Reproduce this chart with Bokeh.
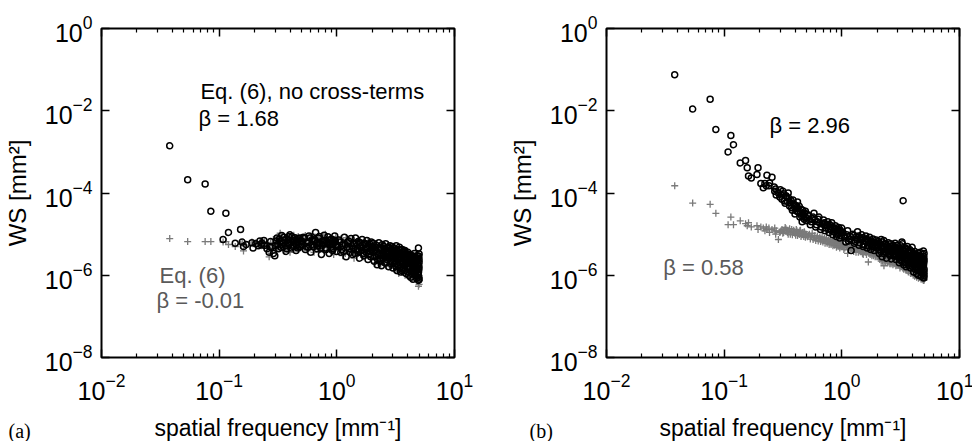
from bokeh.plotting import figure
from bokeh.layouts import row
from bokeh.models import FixedTicker, LogAxis, Label, Range1d, ColumnDataSource
from bokeh.embed import file_html
from bokeh.resources import INLINE

# ---------------- data ----------------
freq = [
    0.038, 0.054, 0.076, 0.085, 0.108, 0.114, 0.120, 0.137, 0.152, 0.157,
    0.161, 0.170, 0.190, 0.194, 0.205, 0.215, 0.222, 0.228, 0.231, 0.240,
    0.243, 0.255, 0.266, 0.269, 0.274, 0.277, 0.289, 0.297,
    0.30, 0.31, 0.32, 0.33, 0.34, 0.35, 0.36, 0.37, 0.38, 0.39,
    0.40, 0.41, 0.42, 0.43, 0.44, 0.45, 0.46, 0.47, 0.48, 0.49, 0.50,
    0.52, 0.54, 0.56, 0.58, 0.60, 0.62, 0.64, 0.66, 0.68, 0.70,
    0.72, 0.74, 0.76, 0.78, 0.80, 0.82, 0.84, 0.86, 0.88, 0.90,
    0.92, 0.94, 0.96, 0.98, 1.00,
    1.04, 1.08, 1.12, 1.16, 1.20, 1.24, 1.28, 1.32, 1.36, 1.40,
    1.44, 1.48, 1.52, 1.56, 1.60, 1.64, 1.68, 1.72, 1.76, 1.80,
    1.84, 1.88, 1.92, 1.96, 2.00,
    2.04, 2.08, 2.12, 2.16, 2.20, 2.24, 2.28, 2.32, 2.36, 2.40,
    2.44, 2.48, 2.52, 2.56, 2.60, 2.64, 2.68, 2.72, 2.76, 2.80,
    2.84, 2.88, 2.92, 2.96,
    3.00, 3.04, 3.08, 3.12, 3.16, 3.20, 3.24, 3.28, 3.32, 3.36,
    3.40, 3.44, 3.48, 3.52, 3.56, 3.60, 3.64, 3.68, 3.72, 3.76,
    3.80, 3.84, 3.88, 3.92, 3.96,
    4.00, 4.04, 4.08, 4.12, 4.16, 4.20, 4.24, 4.28, 4.32, 4.36,
    4.40, 4.44, 4.48, 4.52, 4.56, 4.60, 4.64, 4.68, 4.72, 4.76,
    4.80, 4.84, 4.88, 4.92, 4.96, 5.00,
    4.94, 4.95, 4.97, 4.98, 4.99, 5.00, 5.00, 5.00,
    # second pass through the dense part
    0.305, 0.315, 0.325, 0.335, 0.345, 0.355, 0.365, 0.375, 0.385, 0.395,
    0.405, 0.415, 0.425, 0.435, 0.445, 0.455, 0.465, 0.475, 0.485, 0.495,
    0.51, 0.53, 0.55, 0.57, 0.59, 0.61, 0.63, 0.65, 0.67, 0.69,
    0.71, 0.73, 0.75, 0.77, 0.79, 0.81, 0.83, 0.85, 0.87, 0.89,
    0.91, 0.93, 0.95, 0.97, 0.99,
    1.02, 1.06, 1.10, 1.14, 1.18, 1.22, 1.26, 1.30, 1.34, 1.38,
    1.42, 1.46, 1.50, 1.54, 1.58, 1.62, 1.66, 1.70, 1.74, 1.78,
    1.82, 1.86, 1.90, 1.94, 1.98,
    2.02, 2.06, 2.10, 2.14, 2.18, 2.22, 2.26, 2.30, 2.34, 2.38,
    2.42, 2.46, 2.50, 2.54, 2.58, 2.62, 2.66, 2.70, 2.74, 2.78,
    2.82, 2.86, 2.90, 2.94, 2.98,
    3.02, 3.06, 3.10, 3.14, 3.18, 3.22, 3.26, 3.30, 3.34, 3.38,
    3.42, 3.46, 3.50, 3.54, 3.58, 3.62, 3.66, 3.70, 3.74, 3.78,
    3.82, 3.86, 3.90, 3.94, 3.98,
    4.02, 4.06, 4.10, 4.14, 4.18, 4.22, 4.26, 4.30, 4.34, 4.38,
    4.42, 4.46, 4.50, 4.54, 4.58, 4.62, 4.66, 4.70, 4.74, 4.78,
    4.82, 4.86, 4.90, 4.94, 4.98,
]

# panel (a): Eq. (6) without cross-terms (black circles)
ws_a_nocross = [
    1.4e-3, 2.1e-4, 1.65e-4, 3.6e-5, 7.4e-6, 3.2e-5, 1.1e-5, 6.0e-6, 1.3e-5, 6.4e-6,
    5.0e-6, 5.6e-6, 6.2e-6, 4.6e-6, 5.8e-6, 5.2e-6, 6.8e-6, 5.5e-6, 6.0e-6, 7.0e-6,
    5.3e-6, 4.4e-6, 3.6e-6, 5.0e-6, 6.6e-6, 4.8e-6, 3.4e-6, 3.0e-6,
    5.2e-6, 8.0e-6, 4.4e-6, 6.6e-6, 9.2e-6, 5.0e-6, 7.2e-6, 3.8e-6, 6.0e-6, 8.6e-6,
    9.6e-6, 4.6e-6, 7.0e-6, 5.4e-6, 8.2e-6, 4.0e-6, 6.4e-6, 7.8e-6, 4.8e-6, 6.8e-6, 5.6e-6,
    8.4e-6, 4.2e-6, 6.2e-6, 9.0e-6, 3.6e-6, 7.4e-6, 5.0e-6, 1.1e-5, 4.4e-6, 8.0e-6,
    5.8e-6, 3.2e-6, 7.0e-6, 9.4e-6, 4.6e-6, 6.4e-6, 8.6e-6, 3.4e-6, 5.6e-6, 7.6e-6,
    4.0e-6, 6.8e-6, 9.0e-6, 5.2e-6, 3.8e-6,
    7.2e-6, 3.6e-6, 5.4e-6, 8.4e-6, 2.8e-6, 6.2e-6, 4.4e-6, 7.8e-6, 3.2e-6, 5.8e-6,
    8.0e-6, 4.0e-6, 6.6e-6, 2.6e-6, 5.0e-6, 7.4e-6, 3.4e-6, 6.0e-6, 4.6e-6, 7.0e-6,
    2.4e-6, 5.2e-6, 3.8e-6, 6.4e-6, 4.2e-6,
    6.0e-6, 2.2e-6, 4.0e-6, 5.4e-6, 1.8e-6, 3.2e-6, 6.2e-6, 2.6e-6, 4.6e-6, 1.7e-6,
    5.6e-6, 3.0e-6, 4.2e-6, 2.0e-6, 5.8e-6, 3.6e-6, 2.4e-6, 4.8e-6, 1.6e-6, 3.4e-6,
    5.2e-6, 2.2e-6, 3.8e-6, 5.0e-6,
    1.5e-6, 2.8e-6, 4.4e-6, 1.9e-6, 3.2e-6, 5.2e-6, 1.3e-6, 2.4e-6, 3.8e-6, 1.7e-6,
    4.8e-6, 2.9e-6, 1.2e-6, 3.5e-6, 2.1e-6, 4.2e-6, 1.4e-6, 2.6e-6, 3.9e-6, 1.8e-6,
    4.0e-6, 2.3e-6, 1.1e-6, 3.1e-6, 1.6e-6,
    3.6e-6, 2.0e-6, 1.0e-6, 2.8e-6, 1.4e-6, 3.2e-6, 9.0e-7, 2.2e-6, 1.2e-6, 3.0e-6,
    1.7e-6, 8.0e-7, 2.5e-6, 1.3e-6, 3.4e-6, 1.9e-6, 1.0e-6, 2.7e-6, 1.5e-6, 8.5e-7,
    2.1e-6, 3.0e-6, 1.1e-6, 1.8e-6, 7.5e-7, 2.4e-6,
    4.6e-6, 1.2e-6, 2.9e-6, 9.0e-7, 1.6e-6, 3.3e-6, 8.0e-7, 2.0e-6,
    6.8e-6, 5.6e-6, 7.6e-6, 4.8e-6, 6.2e-6, 8.4e-6, 5.2e-6, 4.4e-6, 7.4e-6, 5.8e-6,
    6.6e-6, 8.8e-6, 5.0e-6, 7.0e-6, 6.0e-6, 5.4e-6, 4.6e-6, 7.2e-6, 8.0e-6, 5.0e-6,
    6.6e-6, 7.8e-6, 5.0e-6, 4.8e-6, 8.0e-6, 5.6e-6, 6.6e-6, 7.2e-6, 6.0e-6, 5.2e-6,
    8.8e-6, 4.6e-6, 5.4e-6, 6.2e-6, 7.0e-6, 4.2e-6, 5.8e-6, 6.0e-6, 7.2e-6, 4.8e-6,
    5.8e-6, 4.4e-6, 6.2e-6, 7.0e-6, 5.6e-6,
    5.0e-6, 6.4e-6, 4.2e-6, 3.8e-6, 5.6e-6, 4.8e-6, 6.8e-6, 3.6e-6, 5.2e-6, 4.6e-6,
    3.4e-6, 6.0e-6, 4.4e-6, 3.8e-6, 6.2e-6, 4.0e-6, 5.4e-6, 3.0e-6, 5.6e-6, 3.6e-6,
    4.8e-6, 3.2e-6, 5.8e-6, 2.8e-6, 5.0e-6,
    4.6e-6, 3.6e-6, 2.8e-6, 4.8e-6, 3.8e-6, 2.4e-6, 4.4e-6, 3.4e-6, 2.2e-6, 4.2e-6,
    3.2e-6, 2.6e-6, 5.0e-6, 2.8e-6, 4.4e-6, 3.0e-6, 2.0e-6, 4.0e-6, 3.6e-6, 2.6e-6,
    4.6e-6, 2.8e-6, 1.9e-6, 4.2e-6, 3.0e-6,
    3.4e-6, 2.2e-6, 3.6e-6, 2.6e-6, 1.6e-6, 4.0e-6, 3.0e-6, 1.8e-6, 2.7e-6, 4.2e-6,
    2.0e-6, 1.5e-6, 3.3e-6, 2.5e-6, 1.3e-6, 3.0e-6, 2.0e-6, 3.6e-6, 2.4e-6, 1.3e-6,
    2.9e-6, 3.4e-6, 1.9e-6, 2.4e-6, 3.2e-6,
    2.6e-6, 1.6e-6, 1.2e-6, 2.2e-6, 3.0e-6, 1.5e-6, 2.6e-6, 1.1e-6, 1.9e-6, 2.4e-6,
    1.2e-6, 2.0e-6, 1.6e-6, 2.8e-6, 1.1e-6, 1.6e-6, 2.2e-6, 1.3e-6, 9.5e-7, 2.3e-6,
    1.4e-6, 1.8e-6, 2.6e-6, 1.0e-6, 1.4e-6,
]

# panel (a): Eq. (6) (grey crosses)
ws_a_eq6 = [
    7.8e-6, 6.6e-6, 6.6e-6, 6.6e-6, 6.4e-6, 6.6e-6, 5.6e-6, 5.0e-6, 5.6e-6, 6.0e-6,
    3.9e-6, 5.4e-6, 6.4e-6, 5.8e-6, 6.2e-6, 5.6e-6, 6.6e-6, 5.2e-6, 6.0e-6, 5.8e-6,
    6.4e-6, 4.8e-6, 2.8e-6, 5.4e-6, 6.2e-6, 3.4e-6, 7.4e-6, 6.0e-6,
    6.4e-6, 4.2e-6, 8.6e-6, 1.05e-5, 5.0e-6, 7.4e-6, 4.0e-6, 6.8e-6, 9.0e-6, 5.4e-6,
    3.6e-6, 7.8e-6, 6.0e-6, 9.4e-6, 4.4e-6, 7.0e-6, 5.2e-6, 8.8e-6, 6.2e-6, 4.6e-6, 8.0e-6,
    5.6e-6, 9.2e-6, 4.0e-6, 7.2e-6, 6.0e-6, 9.8e-6, 3.6e-6, 7.6e-6, 5.4e-6, 8.8e-6,
    4.2e-6, 6.6e-6, 9.0e-6, 5.0e-6, 1.0e-5, 3.8e-6, 7.0e-6, 5.8e-6, 8.2e-6, 4.4e-6,
    6.2e-6, 3.2e-6, 7.4e-6, 8.6e-6, 5.0e-6,
    4.8e-6, 7.6e-6, 3.0e-6, 5.6e-6, 8.2e-6, 3.8e-6, 6.8e-6, 4.6e-6, 7.2e-6, 2.6e-6,
    5.2e-6, 6.6e-6, 3.4e-6, 7.0e-6, 4.2e-6, 5.8e-6, 2.8e-6, 6.4e-6, 3.6e-6, 5.4e-6,
    6.8e-6, 3.0e-6, 5.0e-6, 2.5e-6, 4.4e-6,
    3.4e-6, 5.8e-6, 2.0e-6, 4.4e-6, 6.0e-6, 2.6e-6, 3.8e-6, 5.2e-6, 1.8e-6, 4.0e-6,
    2.9e-6, 5.4e-6, 2.2e-6, 3.6e-6, 4.8e-6, 1.7e-6, 3.2e-6, 5.6e-6, 2.4e-6, 4.2e-6,
    1.9e-6, 3.0e-6, 4.6e-6, 2.0e-6,
    3.8e-6, 1.6e-6, 2.7e-6, 4.6e-6, 1.3e-6, 1.45e-6, 3.4e-6, 2.0e-6, 4.2e-6, 1.1e-6,
    2.6e-6, 3.6e-6, 1.8e-6, 4.4e-6, 1.2e-6, 2.9e-6, 3.7e-6, 1.5e-6, 2.3e-6, 4.0e-6,
    1.0e-6, 2.8e-6, 3.4e-6, 1.4e-6, 2.2e-6,
    1.2e-6, 3.2e-6, 2.0e-6, 9.5e-7, 2.6e-6, 1.6e-6, 3.4e-6, 1.1e-6, 2.3e-6, 8.5e-7,
    2.9e-6, 1.4e-6, 1.9e-6, 3.1e-6, 9.0e-7, 2.2e-6, 1.5e-6, 3.0e-6, 8.0e-7, 1.8e-6,
    2.6e-6, 1.2e-6, 7.0e-7, 2.0e-6, 1.0e-6, 2.8e-6,
    5.4e-7, 2.5e-6, 1.4e-6, 3.2e-6, 7.5e-7, 1.7e-6, 6.0e-7, 2.2e-6,
    5.8e-6, 7.2e-6, 4.8e-6, 6.4e-6, 8.2e-6, 5.4e-6, 6.0e-6, 7.6e-6, 4.6e-6, 6.8e-6,
    8.4e-6, 5.0e-6, 6.4e-6, 5.6e-6, 7.8e-6, 4.8e-6, 6.6e-6, 5.4e-6, 7.0e-6, 6.2e-6,
    7.0e-6, 5.2e-6, 6.4e-6, 8.0e-6, 4.6e-6, 6.8e-6, 5.4e-6, 8.4e-6, 6.2e-6, 4.4e-6,
    7.4e-6, 5.6e-6, 6.4e-6, 7.8e-6, 4.8e-6, 6.0e-6, 8.0e-6, 5.2e-6, 4.2e-6, 6.6e-6,
    7.2e-6, 5.0e-6, 5.8e-6, 4.6e-6, 6.8e-6,
    6.0e-6, 4.2e-6, 5.2e-6, 6.6e-6, 3.4e-6, 5.8e-6, 4.0e-6, 6.2e-6, 3.6e-6, 5.0e-6,
    4.6e-6, 3.2e-6, 6.0e-6, 4.4e-6, 5.2e-6, 3.8e-6, 4.8e-6, 5.8e-6, 3.0e-6, 4.6e-6,
    4.0e-6, 5.4e-6, 3.4e-6, 4.2e-6, 5.0e-6,
    2.8e-6, 4.8e-6, 3.6e-6, 2.4e-6, 4.2e-6, 3.2e-6, 5.0e-6, 2.2e-6, 3.4e-6, 4.6e-6,
    2.6e-6, 3.8e-6, 2.0e-6, 4.4e-6, 3.0e-6, 2.4e-6, 4.0e-6, 2.8e-6, 3.6e-6, 1.8e-6,
    3.2e-6, 4.2e-6, 2.6e-6, 3.4e-6, 2.2e-6,
    2.4e-6, 3.2e-6, 1.8e-6, 2.8e-6, 3.8e-6, 2.2e-6, 1.6e-6, 3.0e-6, 2.5e-6, 1.7e-6,
    3.4e-6, 2.2e-6, 1.4e-6, 2.8e-6, 3.2e-6, 1.9e-6, 2.4e-6, 1.6e-6, 3.0e-6, 2.6e-6,
    1.5e-6, 2.0e-6, 2.6e-6, 1.8e-6, 3.0e-6,
    1.8e-6, 2.4e-6, 1.4e-6, 2.8e-6, 1.2e-6, 2.0e-6, 2.5e-6, 1.5e-6, 1.0e-6, 2.1e-6,
    2.6e-6, 1.2e-6, 1.7e-6, 2.3e-6, 1.3e-6, 2.7e-6, 1.1e-6, 1.6e-6, 2.2e-6, 1.4e-6,
    9.0e-7, 1.9e-6, 1.3e-6, 2.4e-6, 1.5e-6,
]

# panel (b): Eq. (6) without cross-terms (black circles)
ws_b_nocross = [
    7.5e-2, 1.1e-2, 1.9e-2, 3.5e-3, 1.0e-3, 2.5e-3, 1.5e-3, 5.4e-4, 6.2e-4, 4.1e-4,
    2.6e-4, 2.3e-4, 2.8e-4, 4.1e-4, 1.7e-4, 1.35e-4, 1.7e-4, 1.5e-4, 2.7e-4, 1.5e-4,
    1.75e-4, 2.4e-4, 1.4e-4, 1.1e-4, 1.25e-4, 9.0e-5, 1.0e-4, 8.0e-5,
    1.2e-4, 7.0e-5, 9.6e-5, 5.6e-5, 8.0e-5, 1.0e-4, 4.8e-5, 6.6e-5, 3.8e-5, 5.4e-5,
    3.1e-5, 4.4e-5, 6.0e-5, 3.4e-5, 2.6e-5, 4.0e-5, 2.0e-5, 3.0e-5, 2.3e-5, 3.6e-5, 2.1e-5,
    2.8e-5, 1.7e-5, 2.4e-5, 3.2e-5, 1.5e-5, 2.0e-5, 2.6e-5, 1.3e-5, 1.8e-5, 2.2e-5,
    1.2e-5, 1.6e-5, 2.0e-5, 1.1e-5, 1.5e-5, 1.9e-5, 9.6e-6, 1.3e-5, 1.6e-5, 8.8e-6,
    1.2e-5, 1.45e-5, 8.0e-6, 1.1e-5, 1.4e-5,
    9.0e-6, 6.4e-6, 1.2e-5, 7.6e-6, 4.0e-6, 1.0e-5, 6.0e-6, 8.4e-6, 1.15e-5, 5.4e-6,
    7.8e-6, 9.6e-6, 5.0e-6, 7.0e-6, 9.0e-6, 4.6e-6, 6.4e-6, 8.4e-6, 4.2e-6, 6.0e-6,
    7.6e-6, 4.0e-6, 5.4e-6, 7.2e-6, 4.6e-6,
    6.6e-6, 3.4e-6, 5.0e-6, 7.4e-6, 2.8e-6, 4.4e-6, 7.0e-6, 3.6e-6, 5.6e-6, 2.6e-6,
    4.8e-6, 6.2e-6, 3.2e-6, 4.2e-6, 5.8e-6, 2.5e-6, 3.8e-6, 5.2e-6, 3.0e-6, 4.6e-6,
    6.0e-6, 2.4e-6, 4.0e-6, 5.4e-6,
    2.8e-6, 4.4e-6, 2.0e-6, 3.4e-6, 5.2e-6, 2.4e-6, 6.4e-6, 5.8e-6, 6.5e-5, 1.8e-6,
    3.8e-6, 2.6e-6, 4.6e-6, 1.6e-6, 3.2e-6, 5.0e-6, 2.2e-6, 3.6e-6, 1.7e-6, 4.2e-6,
    2.9e-6, 1.5e-6, 3.9e-6, 2.3e-6, 4.8e-6,
    1.6e-6, 3.0e-6, 1.2e-6, 2.4e-6, 3.8e-6, 1.4e-6, 2.0e-6, 3.2e-6, 1.1e-6, 2.6e-6,
    1.8e-6, 3.5e-6, 1.0e-6, 2.2e-6, 2.9e-6, 1.3e-6, 3.6e-6, 1.9e-6, 9.5e-7, 2.7e-6,
    1.5e-6, 3.3e-6, 2.1e-6, 9.0e-7, 2.5e-6, 1.4e-6,
    3.9e-6, 1.7e-6, 8.6e-7, 2.8e-6, 1.2e-6, 3.4e-6, 1.0e-6, 2.3e-6,
    9.0e-5, 1.1e-4, 6.4e-5, 8.6e-5, 6.2e-5, 7.4e-5, 5.8e-5, 4.4e-5, 6.8e-5, 4.6e-5,
    5.0e-5, 3.6e-5, 4.2e-5, 4.8e-5, 3.2e-5, 2.8e-5, 3.8e-5, 2.6e-5, 3.2e-5, 2.5e-5,
    3.0e-5, 2.2e-5, 2.0e-5, 2.6e-5, 2.2e-5, 1.7e-5, 2.3e-5, 1.9e-5, 1.5e-5, 1.8e-5,
    1.9e-5, 1.4e-5, 1.7e-5, 1.35e-5, 1.7e-5, 1.25e-5, 1.5e-5, 1.15e-5, 1.4e-5, 1.2e-5,
    1.0e-5, 1.3e-5, 1.05e-5, 1.25e-5, 9.0e-6,
    1.1e-5, 8.0e-6, 9.6e-6, 6.8e-6, 8.8e-6, 7.0e-6, 9.2e-6, 6.6e-6, 7.4e-6, 9.0e-6,
    6.2e-6, 7.2e-6, 8.2e-6, 5.6e-6, 6.6e-6, 7.6e-6, 5.2e-6, 7.0e-6, 5.8e-6, 6.8e-6,
    5.0e-6, 6.4e-6, 4.8e-6, 6.2e-6, 5.2e-6,
    5.6e-6, 4.2e-6, 6.0e-6, 3.8e-6, 5.2e-6, 6.4e-6, 3.4e-6, 4.8e-6, 5.8e-6, 3.6e-6,
    4.0e-6, 5.2e-6, 3.4e-6, 4.6e-6, 3.0e-6, 5.0e-6, 3.6e-6, 4.2e-6, 5.4e-6, 3.2e-6,
    3.8e-6, 4.6e-6, 3.0e-6, 4.4e-6, 3.4e-6,
    3.6e-6, 2.6e-6, 4.0e-6, 3.0e-6, 4.4e-6, 2.2e-6, 3.2e-6, 4.2e-6, 2.8e-6, 3.4e-6,
    2.0e-6, 3.8e-6, 2.6e-6, 4.2e-6, 2.4e-6, 3.0e-6, 3.8e-6, 2.0e-6, 2.8e-6, 3.4e-6,
    2.2e-6, 3.6e-6, 2.6e-6, 1.9e-6, 3.0e-6,
    2.2e-6, 3.4e-6, 1.8e-6, 2.8e-6, 1.6e-6, 3.0e-6, 2.4e-6, 1.5e-6, 2.8e-6, 2.0e-6,
    3.0e-6, 1.4e-6, 2.4e-6, 1.7e-6, 2.6e-6, 2.0e-6, 1.2e-6, 2.9e-6, 1.6e-6, 2.2e-6,
    1.2e-6, 2.6e-6, 1.8e-6, 1.1e-6, 2.0e-6,
]

# panel (b): Eq. (6) (grey crosses)
ws_b_eq6 = [
    1.5e-4, 5.7e-5, 5.3e-5, 3.2e-5, 1.7e-5, 2.6e-5, 1.7e-5, 2.1e-5, 1.8e-5, 1.6e-5,
    1.9e-5, 1.5e-5, 1.6e-5, 1.3e-5, 1.5e-5, 1.4e-5, 1.2e-5, 1.5e-5, 1.3e-5, 1.4e-5,
    1.1e-5, 1.3e-5, 1.2e-5, 1.4e-5, 1.0e-5, 1.2e-5, 7.4e-6, 1.1e-5,
    1.15e-5, 1.3e-5, 1.1e-5, 1.45e-5, 1.2e-5, 1.0e-5, 1.35e-5, 1.15e-5, 9.6e-6, 1.25e-5,
    1.05e-5, 1.3e-5, 9.2e-6, 1.1e-5, 1.2e-5, 8.8e-6, 1.05e-5, 9.6e-6, 1.15e-5, 8.4e-6, 1.0e-5,
    9.4e-6, 7.6e-6, 1.05e-5, 8.2e-6, 7.0e-6, 9.0e-6, 7.8e-6, 6.6e-6, 8.6e-6, 7.2e-6,
    6.0e-6, 8.0e-6, 6.8e-6, 5.6e-6, 7.4e-6, 6.2e-6, 5.2e-6, 6.8e-6, 5.8e-6, 4.8e-6,
    6.4e-6, 5.4e-6, 4.6e-6, 6.0e-6, 5.0e-6,
    4.2e-6, 5.6e-6, 3.4e-6, 4.8e-6, 5.8e-6, 4.0e-6, 5.0e-6, 3.6e-6, 4.6e-6, 5.4e-6,
    3.8e-6, 4.4e-6, 3.2e-6, 4.8e-6, 3.6e-6, 4.2e-6, 2.1e-6, 3.8e-6, 4.4e-6, 3.0e-6,
    4.0e-6, 3.4e-6, 2.8e-6, 3.8e-6, 3.2e-6,
    3.6e-6, 2.6e-6, 3.0e-6, 2.2e-6, 3.4e-6, 2.8e-6, 1.7e-6, 3.2e-6, 2.4e-6, 2.9e-6,
    2.0e-6, 3.3e-6, 2.5e-6, 1.9e-6, 3.0e-6, 2.3e-6, 2.7e-6, 1.8e-6, 2.9e-6, 2.2e-6,
    2.6e-6, 1.7e-6, 2.4e-6, 2.0e-6,
    2.6e-6, 1.8e-6, 2.3e-6, 1.5e-6, 2.8e-6, 2.0e-6, 1.6e-6, 2.5e-6, 1.9e-6, 1.4e-6,
    2.4e-6, 1.7e-6, 2.1e-6, 1.3e-6, 2.2e-6, 1.6e-6, 1.9e-6, 1.2e-6, 2.0e-6, 1.5e-6,
    1.8e-6, 1.1e-6, 1.7e-6, 1.3e-6, 1.9e-6,
    1.4e-6, 1.0e-6, 1.7e-6, 1.2e-6, 9.5e-7, 1.5e-6, 1.1e-6, 1.6e-6, 9.0e-7, 1.3e-6,
    1.0e-6, 1.5e-6, 8.5e-7, 1.2e-6, 1.4e-6, 9.0e-7, 1.1e-6, 1.3e-6, 8.0e-7, 1.0e-6,
    1.2e-6, 8.5e-7, 1.1e-6, 7.8e-7, 9.5e-7, 1.2e-6,
    7.5e-7, 1.0e-6, 1.3e-6, 8.0e-7, 1.1e-6, 9.0e-7, 1.4e-6, 7.6e-7,
    1.2e-5, 1.05e-5, 1.25e-5, 1.35e-5, 1.1e-5, 1.2e-5, 1.0e-5, 1.3e-5, 1.1e-5, 1.15e-5,
    9.4e-6, 1.2e-5, 1.05e-5, 9.8e-6, 1.25e-5, 9.6e-6, 1.1e-5, 8.8e-6, 1.05e-5, 9.2e-6,
    8.6e-6, 1.0e-5, 8.8e-6, 7.4e-6, 9.2e-6, 8.0e-6, 6.8e-6, 8.4e-6, 7.6e-6, 6.4e-6,
    7.8e-6, 7.0e-6, 6.0e-6, 7.2e-6, 6.6e-6, 5.6e-6, 7.0e-6, 6.0e-6, 5.4e-6, 6.6e-6,
    5.6e-6, 5.0e-6, 6.2e-6, 5.2e-6, 5.6e-6,
    5.2e-6, 4.6e-6, 5.0e-6, 4.2e-6, 5.2e-6, 4.4e-6, 3.8e-6, 4.8e-6, 4.2e-6, 3.6e-6,
    4.6e-6, 4.0e-6, 3.4e-6, 4.2e-6, 3.8e-6, 3.2e-6, 4.4e-6, 3.4e-6, 3.2e-6, 4.0e-6,
    3.6e-6, 3.0e-6, 3.6e-6, 3.0e-6, 3.4e-6,
    3.0e-6, 3.2e-6, 2.4e-6, 2.8e-6, 3.0e-6, 2.2e-6, 2.6e-6, 2.9e-6, 2.1e-6, 2.6e-6,
    2.8e-6, 2.0e-6, 2.7e-6, 2.3e-6, 2.5e-6, 1.9e-6, 2.4e-6, 2.6e-6, 2.0e-6, 2.4e-6,
    1.9e-6, 2.2e-6, 2.6e-6, 1.8e-6, 2.2e-6,
    2.2e-6, 2.0e-6, 1.7e-6, 2.4e-6, 1.8e-6, 2.2e-6, 1.9e-6, 1.5e-6, 2.1e-6, 1.7e-6,
    1.9e-6, 1.5e-6, 1.8e-6, 2.0e-6, 1.4e-6, 1.8e-6, 1.6e-6, 1.4e-6, 1.7e-6, 1.3e-6,
    1.6e-6, 1.4e-6, 1.5e-6, 1.2e-6, 1.5e-6,
    1.2e-6, 1.5e-6, 1.1e-6, 1.3e-6, 1.0e-6, 1.3e-6, 1.4e-6, 1.0e-6, 1.2e-6, 1.1e-6,
    1.3e-6, 9.5e-7, 1.0e-6, 1.25e-6, 9.0e-7, 1.2e-6, 1.0e-6, 1.15e-6, 8.5e-7, 1.1e-6,
    9.5e-7, 1.05e-6, 8.0e-7, 1.0e-6, 8.5e-7,
]

x_major_ticks = [1e-2, 1e-1, 1e0, 1e1]
x_minor_ticks = [2e-2, 3e-2, 4e-2, 5e-2, 6e-2, 7e-2, 8e-2, 9e-2,
                 2e-1, 3e-1, 4e-1, 5e-1, 6e-1, 7e-1, 8e-1, 9e-1,
                 2, 3, 4, 5, 6, 7, 8, 9]
y_major_ticks = [1e-8, 1e-6, 1e-4, 1e-2, 1e0]

x_title = "spatial frequency [mm⁻¹]"
y_title = "WS [mm²]"

# ---------------- styling ----------------
FONT = "Liberation Sans"
MARK_GREY = "#7a7a7a"
TEXT_GREY = "#5a5a5a"


def style_axis(ax, ticks, minor, show_labels):
    ax.ticker = FixedTicker(ticks=ticks, minor_ticks=minor)
    ax.axis_line_color = None
    ax.major_tick_in = 8
    ax.major_tick_out = 0
    ax.minor_tick_in = 4
    ax.minor_tick_out = 0
    ax.major_tick_line_color = "black"
    ax.major_tick_line_width = 1.5
    ax.minor_tick_line_color = "black"
    ax.minor_tick_line_width = 1.2
    if show_labels:
        ax.major_label_text_font = FONT
        ax.major_label_text_font_size = "25px"
        ax.major_label_text_color = "black"
    else:
        ax.major_label_text_font_size = "1px"
        ax.major_label_text_alpha = 0
        ax.major_label_standoff = 0


def make_panel(ws_nocross, ws_eq6, border_left, border_right, labels, tag, tag_x):
    p = figure(frame_width=353, frame_height=329,
               x_axis_type="log", y_axis_type="log",
               x_range=Range1d(1e-2, 1e1), y_range=Range1d(1e-8, 1e0),
               min_border_left=border_left, min_border_right=border_right,
               min_border_top=28, min_border_bottom=84,
               output_backend="svg", toolbar_location=None)
    p.grid.visible = False
    p.outline_line_color = "black"
    p.outline_line_width = 2
    p.background_fill_color = "white"
    p.border_fill_color = "white"

    xa = p.xaxis[0]
    ya = p.yaxis[0]
    style_axis(xa, x_major_ticks, x_minor_ticks, True)
    style_axis(ya, y_major_ticks, [], True)
    xa.major_label_standoff = 15
    ya.major_label_standoff = 9
    xa.axis_label = x_title
    ya.axis_label = y_title
    for ax, st, fs in ((xa, 12, "23px"), (ya, 11, "24px")):
        ax.axis_label_text_font = FONT
        ax.axis_label_text_font_size = fs
        ax.axis_label_text_font_style = "normal"
        ax.axis_label_text_color = "black"
        ax.axis_label_standoff = st

    top = LogAxis()
    style_axis(top, x_major_ticks, x_minor_ticks, False)
    p.add_layout(top, "above")
    right = LogAxis()
    style_axis(right, y_major_ticks, [], False)
    p.add_layout(right, "right")

    src = ColumnDataSource(dict(f=freq, a=ws_nocross, b=ws_eq6))
    p.scatter("f", "b", source=src, marker="cross", size=7,
              line_color=MARK_GREY, line_width=1.3)
    p.scatter("f", "a", source=src, marker="circle", size=6,
              fill_color=None, line_color="black", line_width=1.5)

    for (x, y, txt, col) in labels:
        p.add_layout(Label(x=x, y=y, text=txt, text_color=col,
                           text_font=FONT, text_font_size="22px",
                           text_baseline="alphabetic", text_align="left"))
    # panel tag lies outside the frame: hosted by a side panel (not clipped),
    # the top one has spare room, and it is positioned with the data scales
    p.add_layout(Label(x=tag_x, y=1.6e-10, text=tag, text_color="black",
                       text_font="Liberation Serif", text_font_size="20px",
                       text_baseline="alphabetic", text_align="left"), "above")
    return p


labels_a = [
    (0.0693, 0.030, "Eq. (6), no cross-terms", "black"),
    (0.0667, 6.5e-3, "β = 1.68", "black"),
    (0.0311, 1.0e-6, "Eq. (6)", TEXT_GREY),
    (0.0293, 2.45e-7, "β = -0.01", TEXT_GREY),
]
labels_b = [
    (0.2425, 4.4e-3, "β = 2.96", "black"),
    (0.0303, 1.58e-6, "β = 0.58", TEXT_GREY),
]

pa = make_panel(ws_a_nocross, ws_a_eq6, 100, 33, labels_a, "(a)", 0.00162)
pb = make_panel(ws_b_nocross, ws_b_eq6, 119, 14, labels_b, "(b)", 0.00222)

layout = row(pa, pb)
open("out.html", "w").write(file_html(layout, INLINE))
